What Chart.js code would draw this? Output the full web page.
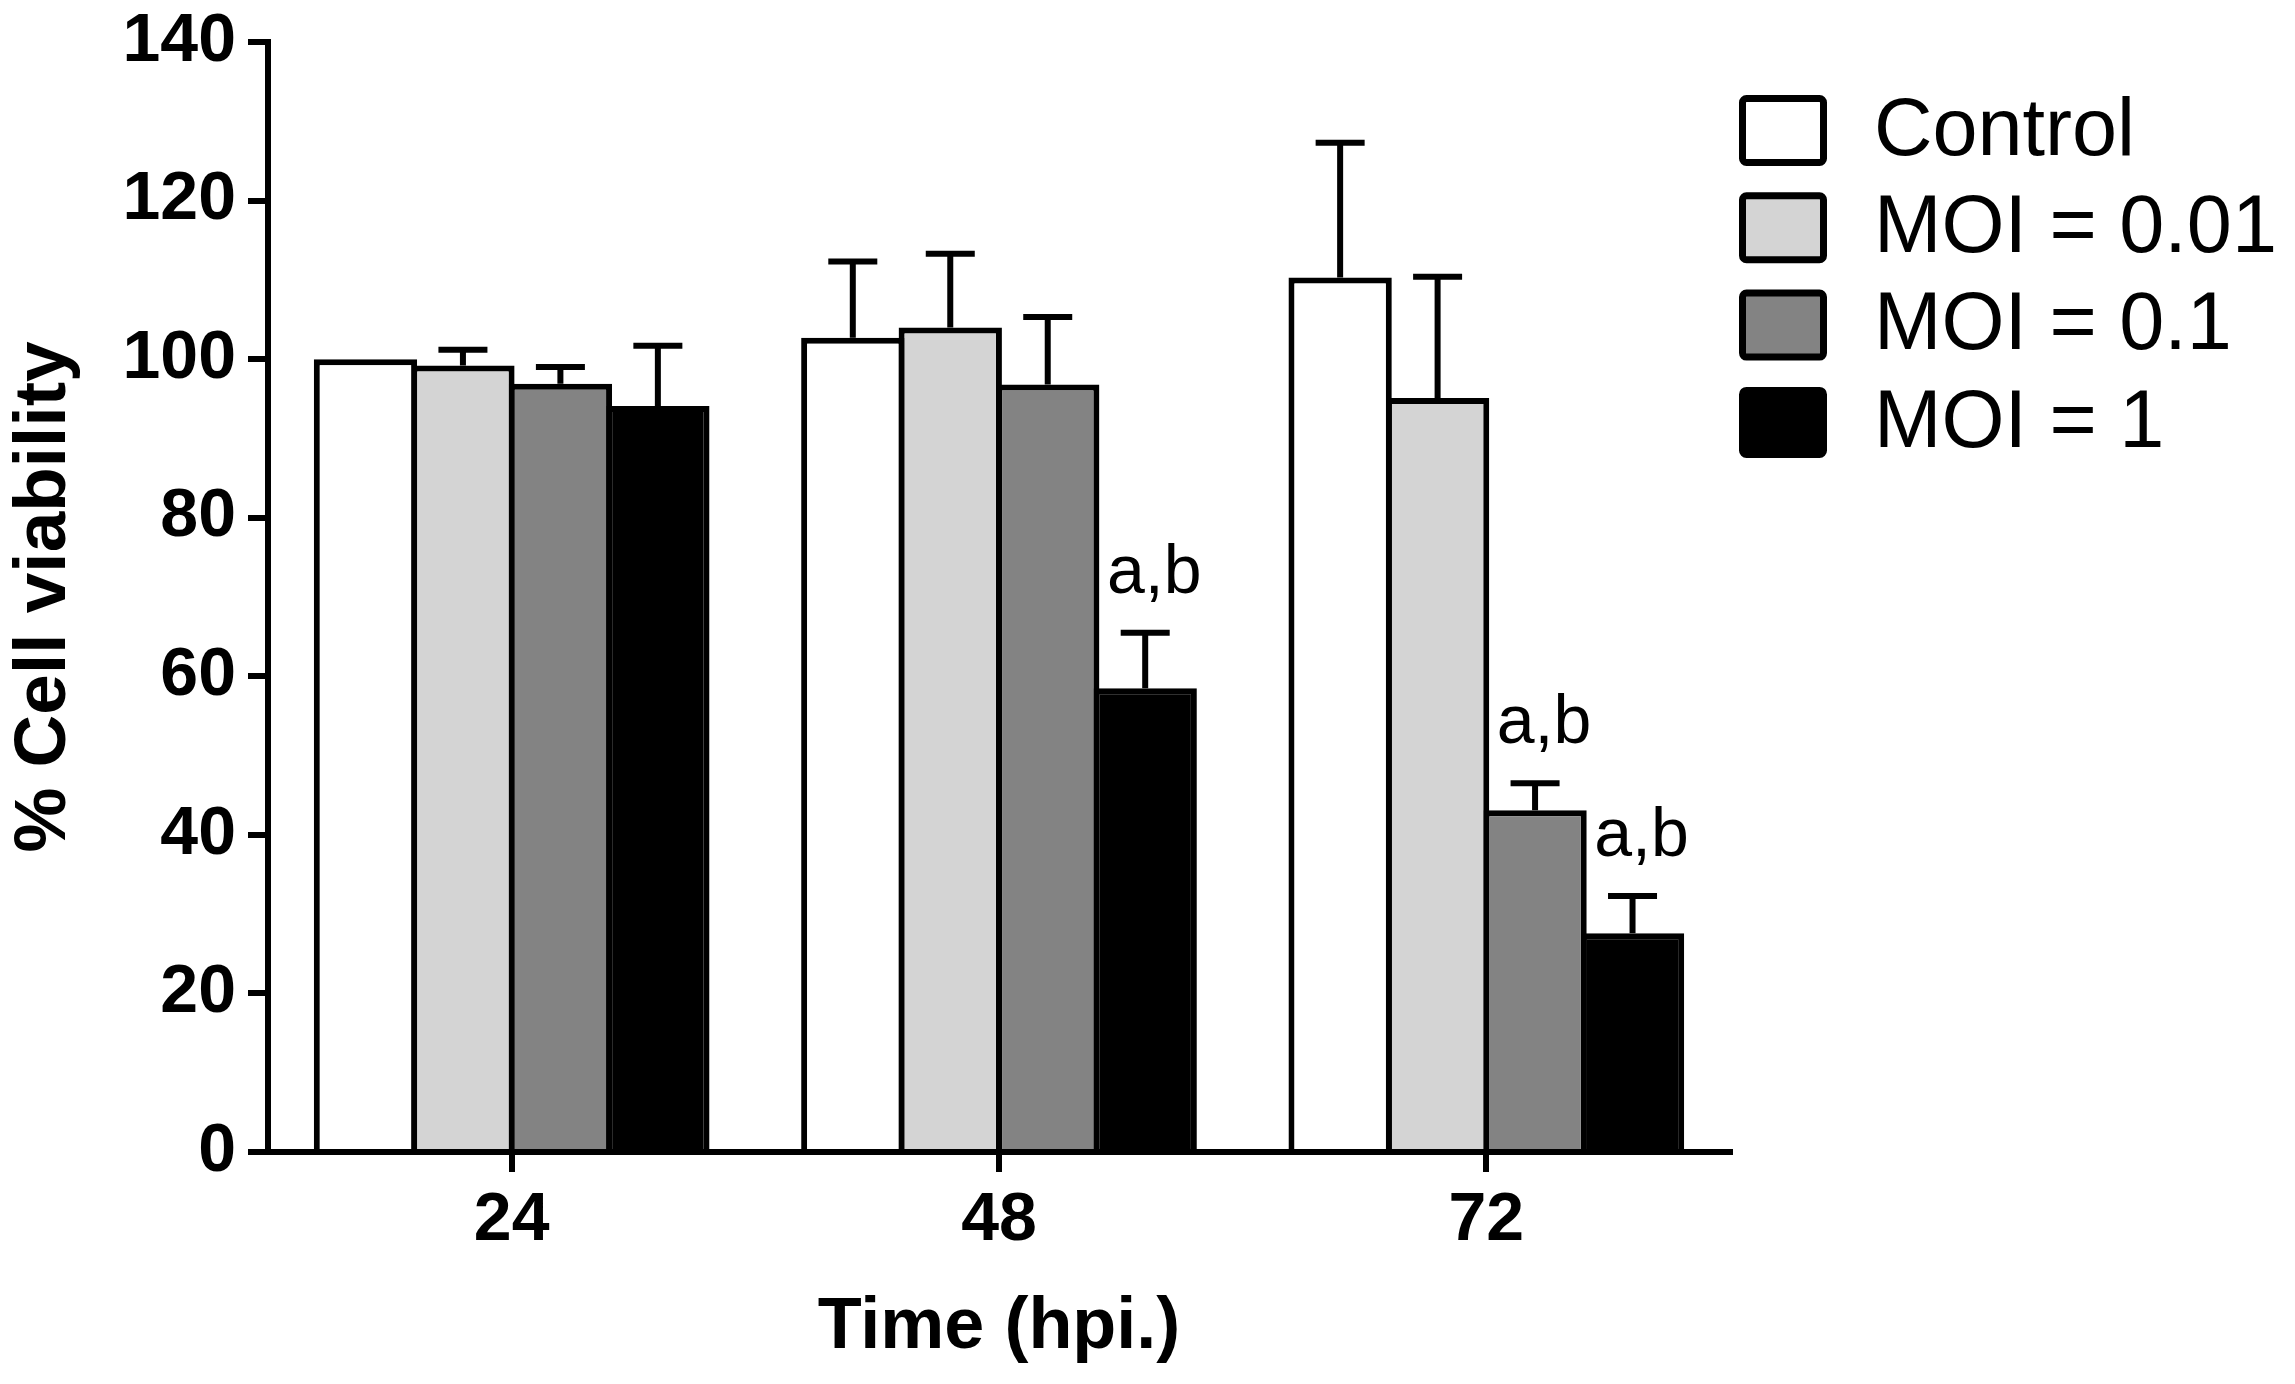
<!DOCTYPE html>
<html>
<head>
<meta charset="utf-8">
<script src="https://cdn.jsdelivr.net/npm/chart.js@4.4.1/dist/chart.umd.min.js"></script>
<style>
  html, body { margin: 0; padding: 0; background: #fff; overflow: hidden; }
  canvas { display: block; }
</style>
</head>
<body>
<canvas id="c" width="2295" height="1384"></canvas>
<script>
// ---- data ----
const categories = ['24', '48', '72'];
const seriesNames = ['Control', 'MOI = 0.01', 'MOI = 0.1', 'MOI = 1'];
const controlValues = [100.0, 102.7, 110.3];
const controlErrors = [0.0, 9.6, 17.0];
const moi001Values = [99.2, 104.0, 95.1];
const moi001Errors = [2.0, 9.3, 15.3];
const moi01Values = [96.9, 96.8, 43.1];
const moi01Errors = [2.1, 8.5, 3.4];
const moi1Values = [94.1, 58.5, 27.6];
const moi1Errors = [7.6, 7.0, 4.7];
const yTicksMin = 0, yTicksMax = 140, yTickStep = 20;
// significance labels: [seriesIndex, categoryIndex, text]
const significance = [[3, 1, 'a,b'], [2, 2, 'a,b'], [3, 2, 'a,b']];
const xTitle = 'Time (hpi.)';
const yTitle = '% Cell viability';

const fills = ['#ffffff', '#d4d4d4', '#838383', '#000000'];
const FONT = '"Liberation Sans", Arial, Helvetica, sans-serif';

const valuesList = [controlValues, moi001Values, moi01Values, moi1Values];
const errorsList = [controlErrors, moi001Errors, moi01Errors, moi1Errors];

const datasets = seriesNames.map((name, i) => ({
  label: name,
  data: valuesList[i],
  errors: errorsList[i],
  backgroundColor: fills[i],
  borderColor: '#000000',
  borderWidth: 6,
  borderSkipped: 'start',
  categoryPercentage: 0.80,
  barPercentage: 1.06
}));

const errorBarPlugin = {
  id: 'errorBars',
  afterDatasetsDraw(chart) {
    const ctx = chart.ctx;
    const y = chart.scales.y;
    ctx.save();
    ctx.strokeStyle = '#000';
    ctx.lineWidth = 6;
    ctx.lineCap = 'butt';
    chart.data.datasets.forEach((ds, di) => {
      const meta = chart.getDatasetMeta(di);
      meta.data.forEach((bar, i) => {
        const err = ds.errors[i];
        if (!err) return;
        const top = y.getPixelForValue(ds.data[i]);
        const cap = y.getPixelForValue(ds.data[i] + err);
        ctx.beginPath();
        ctx.moveTo(bar.x, top);
        ctx.lineTo(bar.x, cap);
        ctx.moveTo(bar.x - 24.5, cap);
        ctx.lineTo(bar.x + 24.5, cap);
        ctx.stroke();
      });
    });
    ctx.restore();
  }
};

const annotationPlugin = {
  id: 'sigLabels',
  afterDatasetsDraw(chart) {
    const ctx = chart.ctx;
    const y = chart.scales.y;
    ctx.save();
    ctx.fillStyle = '#000';
    ctx.font = '68px ' + FONT;
    ctx.textAlign = 'center';
    ctx.textBaseline = 'alphabetic';
    significance.forEach(([di, ci, txt]) => {
      const ds = chart.data.datasets[di];
      const bar = chart.getDatasetMeta(di).data[ci];
      const cap = y.getPixelForValue(ds.data[ci] + ds.errors[ci]);
      ctx.fillText(txt, bar.x + 9, cap - 40);
    });
    ctx.restore();
  }
};

const legendPlugin = {
  id: 'sideLegend',
  afterDraw(chart) {
    const ctx = chart.ctx;
    const x0 = 1739, w = 88, h = 71, top0 = 95, step = 97.3;
    ctx.save();
    chart.data.datasets.forEach((ds, i) => {
      const ty = top0 + i * step;
      const lw = 7;
      ctx.beginPath();
      if (ctx.roundRect) ctx.roundRect(x0 + lw / 2, ty + lw / 2, w - lw, h - lw, 4);
      else ctx.rect(x0 + lw / 2, ty + lw / 2, w - lw, h - lw);
      ctx.fillStyle = ds.backgroundColor;
      ctx.fill();
      ctx.lineWidth = lw;
      ctx.strokeStyle = '#000';
      ctx.stroke();
      ctx.fillStyle = '#000';
      ctx.font = '81px ' + FONT;
      ctx.textAlign = 'left';
      ctx.textBaseline = 'middle';
      ctx.fillText(ds.label, 1874, ty + h / 2 + 2);
    });
    ctx.restore();
  }
};

new Chart(document.getElementById('c').getContext('2d'), {
  type: 'bar',
  data: { labels: categories, datasets },
  plugins: [errorBarPlugin, annotationPlugin, legendPlugin],
  options: {
    responsive: false,
    animation: false,
    devicePixelRatio: 1,
    layout: { padding: { top: 42, right: 565, bottom: 0, left: 0 } },
    plugins: { legend: { display: false }, tooltip: { enabled: false } },
    scales: {
      x: {
        type: 'category',
        offset: true,
        grid: { display: true, drawOnChartArea: false, drawTicks: true, tickLength: 20, lineWidth: 6, color: '#000', offset: false },
        border: { display: true, width: 6, color: '#000' },
        ticks: { color: '#000', font: { family: FONT, size: 68, weight: 'bold' }, padding: 8, maxRotation: 0 },
        title: { display: true, text: xTitle, color: '#000', font: { family: FONT, size: 72, weight: 'bold' }, padding: { top: 0, bottom: 13 } },
        afterFit(s) { s.height = 232; s.paddingLeft = 0; s.paddingRight = 0; }
      },
      y: {
        min: yTicksMin,
        max: yTicksMax,
        grid: { display: true, drawOnChartArea: false, drawTicks: true, tickLength: 20, lineWidth: 6, color: '#000' },
        border: { display: true, width: 6, color: '#000' },
        ticks: { stepSize: yTickStep, color: '#000', font: { family: FONT, size: 68, weight: 'bold' }, padding: 12 },
        title: { display: true, text: yTitle, color: '#000', font: { family: FONT, size: 73, weight: 'bold' }, padding: { top: 1, bottom: 0 } },
        afterFit(s) { s.width = 268; s.paddingTop = 0; s.paddingBottom = 0; }
      }
    }
  }
});
</script>
</body>
</html>
